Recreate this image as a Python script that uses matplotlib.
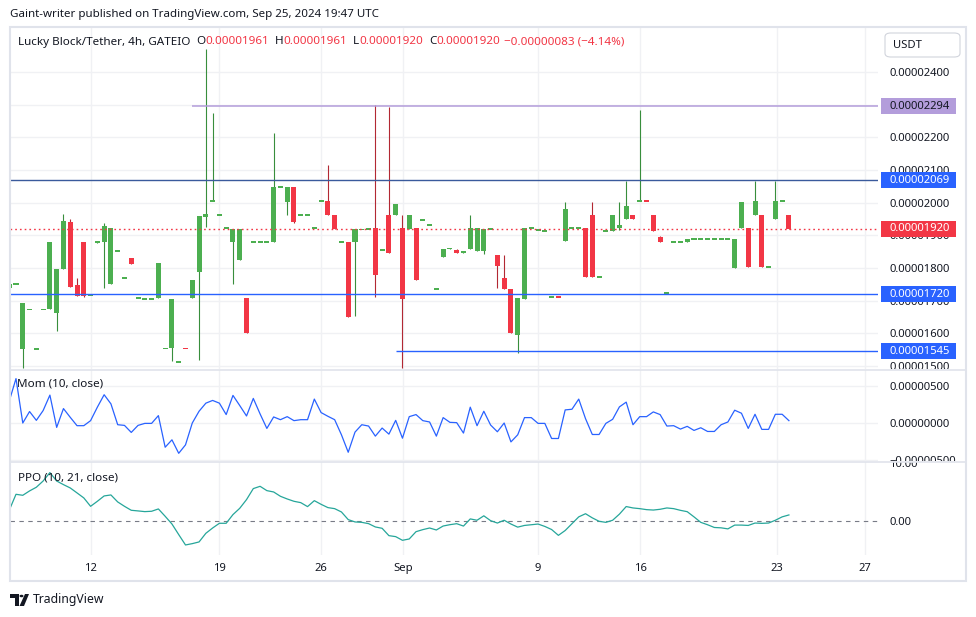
import matplotlib
matplotlib.use("Agg")
import matplotlib.pyplot as plt
from matplotlib.ticker import FuncFormatter
from matplotlib.transforms import Bbox, blended_transform_factory
from matplotlib.patches import Rectangle, FancyBboxPatch, Polygon, Circle
from matplotlib.lines import Line2D

plt.rcParams['font.family'] = ['Noto Sans', 'DejaVu Sans']

# ---------------- data (prices in units of 1e-8 USDT) ----------------
bars = list(range(-1, 115))
opens = [1740, 1751, 1552, 1673, 1553, 1673, 1674, 1661, 1796, 1941,
         1749, 1880, 1717, 1875, 1878, 1750, 1852, 1769, 1831, 1708,
         1705, 1705, 1707, 1554, 1555, 1513, 1554, 1707, 1787, 1957,
         2004, 1962, 1922, 1878, 1823, 1709, 1879, 1879, 1879, 1878,
         2048, 2003, 2048, 1962, 1962, 1922, 2004, 2005, 1963, 1879,
         1880, 1878, 1918, 1919, 1921, 1855, 1963, 1961, 1923, 1918,
         1923, 1946, 1931, 1736, 1835, 1860, 1856, 1845, 1857, 1851,
         1851, 1919, 1840, 1770, 1737, 1594, 1704, 1922, 1917, 1912,
         1712, 1712, 1881, 1922, 1922, 1922, 1963, 1772, 1913, 1912,
         1921, 1950, 1963, 2004, 2004, 1963, 1895, 1724, 1879, 1879,
         1878, 1888, 1888, 1888, 1888, 1888, 1888, 1799, 1922, 1922,
         1962, 1963, 1803, 1951, 2004, 1961]
highs = [1752, 1751, 1694, 1673, 1553, 1673, 1880, 1798, 1966, 1950,
         1769, 1880, 1717, 1881, 1938, 1923, 1852, 1769, 1831, 1708,
         1705, 1705, 1816, 1554, 1706, 1513, 1554, 1764, 1959, 2470,
         2274, 1962, 1922, 1920, 1920, 1709, 1879, 1879, 1879, 2213,
         2048, 2048, 2048, 1962, 1962, 1922, 2004, 2115, 1963, 1879,
         1880, 1920, 1918, 1919, 2298, 1855, 2292, 1996, 1963, 1963,
         1923, 1946, 1931, 1736, 1859, 1862, 1858, 1853, 1963, 1923,
         1920, 1919, 1840, 1840, 1737, 1709, 1923, 1922, 1917, 1915,
         1712, 1712, 2002, 1922, 1922, 1922, 2002, 1772, 1913, 1963,
         2002, 2066, 1963, 2283, 2004, 1963, 1898, 1724, 1879, 1879,
         1888, 1888, 1888, 1888, 1888, 1888, 1888, 1888, 2002, 1922,
         2066, 1963, 1803, 2066, 2004, 1961]
lows = [1740, 1751, 1493, 1673, 1553, 1673, 1674, 1607, 1796, 1743,
        1713, 1712, 1717, 1875, 1740, 1750, 1852, 1769, 1811, 1708,
        1705, 1705, 1707, 1554, 1515, 1513, 1554, 1707, 1518, 1924,
        2004, 1962, 1922, 1750, 1823, 1600, 1879, 1879, 1879, 1878,
        2048, 1961, 1938, 1962, 1962, 1922, 2004, 1961, 1920, 1879,
        1651, 1654, 1918, 1919, 1710, 1855, 1847, 1961, 1493, 1918,
        1762, 1946, 1931, 1736, 1835, 1858, 1845, 1845, 1857, 1851,
        1842, 1919, 1738, 1735, 1600, 1540, 1704, 1922, 1917, 1912,
        1712, 1712, 1881, 1922, 1922, 1771, 1771, 1772, 1913, 1912,
        1915, 1950, 1950, 2004, 2004, 1912, 1878, 1724, 1879, 1879,
        1878, 1888, 1888, 1888, 1888, 1888, 1888, 1799, 1922, 1802,
        1962, 1802, 1803, 1951, 2004, 1920]
closes = [1752, 1751, 1694, 1673, 1553, 1673, 1880, 1798, 1944, 1743,
          1713, 1715, 1717, 1881, 1929, 1923, 1852, 1769, 1811, 1708,
          1705, 1705, 1816, 1554, 1706, 1513, 1554, 1764, 1959, 1966,
          2004, 1962, 1922, 1920, 1920, 1600, 1879, 1879, 1879, 2048,
          2048, 2048, 1941, 1962, 1962, 1922, 2004, 1961, 1920, 1879,
          1651, 1920, 1918, 1919, 1779, 1855, 1847, 1996, 1706, 1963,
          1762, 1946, 1931, 1736, 1859, 1860, 1845, 1853, 1923, 1923,
          1920, 1919, 1805, 1735, 1600, 1709, 1923, 1922, 1917, 1915,
          1712, 1712, 1981, 1922, 1922, 1771, 1771, 1772, 1913, 1963,
          1932, 1990, 1950, 2004, 2004, 1912, 1878, 1724, 1879, 1879,
          1888, 1888, 1888, 1888, 1888, 1888, 1888, 1888, 2002, 1802,
          2004, 1802, 1803, 2004, 2004, 1920]
down_flat = [25, 80, 93]          # flat bars drawn red

mom = [295, 600, 0, 155, 36, 168, 377, -59, 195, 77,
       -36, -36, 32, 214, 382, 259, -23, -32, -127, -32,
       -5, -5, 100, -327, -227, -409, -295, 0, 159, 268,
       305, 268, 114, 373, 236, 95, 332, 123, -73, 82,
       45, 86, 32, 45, 45, 323, 141, 91, 45, -159,
       -395, -123, -23, -41, -177, -68, -150, 36, -205, 86,
       114, 32, 14, -177, 73, 9, 5, -136, 214, -36,
       159, -27, -118, 0, -255, -159, 73, 73, -5, -5,
       -209, -209, 177, 186, 323, 59, -155, -155, -5, 50,
       218, 282, -23, 86, 86, 150, 114, -41, -36, -82,
       -45, -100, -64, -114, -114, -23, 14, 173, 132, -73,
       118, -86, -86, 118, 118, 32]
ppo = [1.89, 4.63, 4.46, 5.21, 5.84, 6.91, 8.35, 6.91, 6.29, 5.72,
       4.87, 4.01, 2.57, 3.43, 4.35, 4.52, 3.32, 2.57, 1.89, 1.78,
       1.66, 1.72, 2.12, 0.86, -0.46, -2.28, -4.06, -3.83, -3.54, -2.06,
       -1.15, -0.34, -0.34, 1.15, 2.23, 3.72, 5.61, 6.00, 5.26, 5.03,
       4.29, 3.83, 3.43, 3.20, 2.52, 3.54, 2.91, 2.35, 2.17, 1.60,
       0.29, -0.11, -0.18, -0.40, -0.97, -1.20, -2.46, -2.63, -3.26, -3.03,
       -1.78, -1.43, -1.15, -1.49, -0.81, -0.58, -0.41, -0.82, 0.41, 0.18,
       0.94, 0.11, -0.30, 0.18, -0.47, -1.00, -0.71, -0.59, -0.47, -0.88,
       -1.41, -2.41, -1.58, -0.41, 0.76, 1.30, 0.59, 0.00, -0.18, 0.18,
       1.23, 2.53, 2.29, 2.17, 2.00, 1.93, 2.06, 2.29, 2.17, 1.88,
       1.65, 0.76, -0.18, -0.59, -1.06, -1.12, -1.30, -0.65, -0.65, -0.71,
       -0.30, -0.35, -0.30, 0.18, 0.76, 1.09]

date_labels = ['12', '19', '26', 'Sep', '9', '16', '23', '27']
date_bars = [11.0, 30.0, 45.0, 57.1, 77.0, 92.1, 112.2, 125.2]
price_ticks = [1500, 1600, 1700, 1800, 1900, 2000, 2100, 2200, 2300, 2400]
mom_ticks = [-500, 0, 500]
ppo_ticks = [0, 10]

level_top = 2294      # purple, starts at bar 26
level_res = 2069
level_sup = 1720
level_low = 1545      # starts at bar 56
last_price = 1920
level_top_start = 26
level_low_start = 56

# ---------------- layout ----------------
W, H = 976, 617
fig = plt.figure(figsize=(W / 100, H / 100), dpi=100)
fig.patch.set_facecolor('white')

TXT = '#131722'
UP, DOWN = '#4caf50', '#f23645'
UPW, DOWNW = '#388e3c', '#b22833'
BLUE = '#2962ff'
GRID = '#f0f1f4'
FS = 8.1


def rect(x0, x1, ytop, ybot):
    return [x0 / W, 1 - ybot / H, (x1 - x0) / W, (ybot - ytop) / H]


X0, X1 = 10, 878
ax = fig.add_axes(rect(X0, X1, 28, 369))
axm = fig.add_axes(rect(X0, X1, 370, 461), sharex=ax)
axp = fig.add_axes(rect(X0, X1, 462, 555), sharex=ax)

xmin = (X0 - 16) / 6.78
xmax = (X1 - 16) / 6.78

for a in (ax, axm, axp):
    for s in a.spines.values():
        s.set_visible(False)
    a.set_facecolor('white')
    a.set_axisbelow(True)
    a.yaxis.tick_right()
    a.tick_params(axis='y', length=0, pad=8, labelsize=FS, labelcolor=TXT,
                  labelright=True, labelleft=False)
    a.tick_params(axis='x', length=0, labelbottom=False)
    a.set_xticks(date_bars)
    a.grid(True, axis='x', color=GRID, lw=1)

ax.set_xlim(xmin, xmax)

# ---------------- main pane ----------------
ax.set_ylim(1491, 2534)
ax.set_yticks(price_ticks)
ax.yaxis.set_major_formatter(FuncFormatter(lambda v, p: f"{v * 1e-8:.8f}"))
ax.grid(True, axis='y', color=GRID, lw=1)

ups = []
for b, o_, c_ in zip(bars, opens, closes):
    ups.append(c_ > o_ or (c_ == o_ and b not in down_flat))
body_col = [UP if u else DOWN for u in ups]
wick_col = [UPW if u else DOWNW for u in ups]

ax.vlines(bars, lows, highs, colors=wick_col, linewidth=0.8, zorder=2)
mind = 5.0
bottoms, heights = [], []
for o_, c_ in zip(opens, closes):
    lo, hi = min(o_, c_), max(o_, c_)
    if hi - lo < mind:
        mid = (hi + lo) / 2
        lo, hi = mid - mind / 2, mid + mind / 2
    bottoms.append(lo)
    heights.append(hi - lo)
ax.bar(bars, heights, bottom=bottoms, width=0.74, color=body_col,
       linewidth=0, zorder=3)

ax.hlines(level_top, level_top_start, xmax, color='#b39ddb', lw=1.1, zorder=4)
ax.axhline(level_res, color='#3a5a9c', lw=1.0, zorder=4)
ax.axhline(level_sup, color=BLUE, lw=1.0, zorder=4)
ax.hlines(level_low, level_low_start, xmax, color=BLUE, lw=1.0, zorder=4)
ax.axhline(last_price, color=DOWN, lw=1.0, ls=(0, (1.2, 2.2)), zorder=4)

blend = blended_transform_factory(ax.transAxes, ax.transData)
box_h = 16 * (2534 - 1491) / 341.0
for val, fc, tc in [(level_top, '#b39ddb', TXT), (level_res, BLUE, 'white'),
                    (last_price, DOWN, 'white'), (level_sup, BLUE, 'white'),
                    (level_low, BLUE, 'white')]:
    ax.add_patch(Rectangle(((881 - X0) / (X1 - X0), val - box_h / 2), 75 / (X1 - X0), box_h,
                           transform=blend, facecolor=fc, edgecolor='none',
                           clip_on=False, zorder=10))
    ax.text((889 - X0) / (X1 - X0), val, f"{val * 1e-8:.8f}", transform=blend,
            ha='left', va='center', fontsize=FS, color=tc, clip_on=False, zorder=11)

# ---------------- momentum pane ----------------
axm.set_ylim(-513, 716)
axm.set_yticks(mom_ticks)
axm.yaxis.set_major_formatter(
    FuncFormatter(lambda v, p: f"{v * 1e-8:.8f}".replace('-', '\u2212')))
axm.grid(True, axis='y', color=GRID, lw=1)
axm.plot(bars, mom, color=BLUE, lw=0.9, zorder=3)

# ---------------- PPO pane ----------------
axp.set_ylim(-5.78, 10.17)
axp.set_yticks(ppo_ticks)
axp.yaxis.set_major_formatter(FuncFormatter(lambda v, p: f"{v:.2f}"))
axp.axhline(0, color='#787b86', lw=0.8, ls=(0, (4, 4)), zorder=2)
axp.plot(bars, ppo, color='#26a69a', lw=0.9, zorder=3)
axp.set_xticklabels(date_labels)
axp.tick_params(axis='x', labelbottom=True, pad=6, labelsize=FS, labelcolor=TXT)


# clip right-axis labels to their own pane
def clip_labels(a):
    pos = a.get_position()
    bb = Bbox.from_extents(pos.x0 * W, pos.y0 * H, W, pos.y1 * H)
    for t in a.yaxis.get_major_ticks():
        t.label2.set_clip_box(bb)
        t.label2.set_clip_on(True)


for a in (ax, axm, axp):
    clip_labels(a)

# ---------------- frame, separators ----------------
fig.add_artist(Rectangle((10 / W, 1 - 581 / H), 956 / W, 554 / H, transform=fig.transFigure,
                         fill=False, edgecolor='#e0e3eb', lw=1.5, zorder=20))
for yy in (369.5, 461.5):
    fig.add_artist(Line2D([10 / W, 966 / W], [1 - yy / H] * 2, transform=fig.transFigure,
                          color='#e0e3eb', lw=1.2, zorder=20))

# USDT box
fig.add_artist(FancyBboxPatch((885 / W, 1 - 57 / H), 75 / W, 24 / H,
                              boxstyle='round,pad=0,rounding_size=0.006',
                              transform=fig.transFigure, facecolor='white',
                              edgecolor='#d1d4dc', lw=0.8, zorder=21))
fig.text(893 / W, 1 - 45 / H, 'USDT', fontsize=FS, color=TXT, va='center', ha='left', zorder=22)

# ---------------- texts ----------------
fig.text(10 / W, 1 - 14 / H, 'Gaint-writer published on TradingView.com, Sep 25, 2024 19:47 UTC',
         fontsize=8.3, color=TXT, va='center', ha='left')


def chain(x_px, y_px, pieces, fs=8.4):
    s, col = pieces[0][0], pieces[0][1]
    t = fig.text(x_px / W, 1 - y_px / H, s, fontsize=fs, color=col, va='center', ha='left',
                 zorder=30)
    for s, col, gap in pieces[1:]:
        t = ax.annotate(s, xy=(1, 0), xycoords=t, xytext=(gap, 0), textcoords='offset pixels',
                        va='bottom', ha='left', fontsize=fs, color=col,
                        annotation_clip=False, zorder=30)


chain(18, 42, [('Lucky Block/Tether, 4h, GATEIO', TXT), ('O', TXT, 6),
               ('0.00001961', DOWN, 0), ('H', TXT, 6), ('0.00001961', DOWN, 0),
               ('L', TXT, 6), ('0.00001920', DOWN, 0), ('C', TXT, 6),
               ('0.00001920', DOWN, 0), ('\u22120.00000083 (\u22124.14%)', DOWN, 4)])
chain(17, 384, [('Mom (10, close)', TXT), ('0.00000032', BLUE, 9)])
chain(18, 478, [('PPO (10, 21, close)', TXT), ('1.09', '#26a69a', 9)])

# TradingView logo (bottom left)
fig.add_artist(Polygon([(10 / W, 1 - 594 / H), (19 / W, 1 - 594 / H), (19 / W, 1 - 606 / H),
                        (15 / W, 1 - 606 / H), (15 / W, 1 - 598 / H), (10 / W, 1 - 598 / H)],
                       closed=True, transform=fig.transFigure, facecolor=TXT, edgecolor='none'))
fig.add_artist(Circle((21.5 / W, 1 - 596 / H), 2.0 / W, transform=fig.transFigure,
                      facecolor=TXT, edgecolor='none'))
fig.add_artist(Polygon([(19.5 / W, 1 - 606 / H), (24 / W, 1 - 606 / H), (29 / W, 1 - 594 / H),
                        (25 / W, 1 - 594 / H)], closed=True, transform=fig.transFigure,
                       facecolor=TXT, edgecolor='none'))
fig.text(33 / W, 1 - 600 / H, 'TradingView', fontsize=8.8, color=TXT, va='center', ha='left')

fig.savefig('out.png', dpi=100, facecolor='white')
